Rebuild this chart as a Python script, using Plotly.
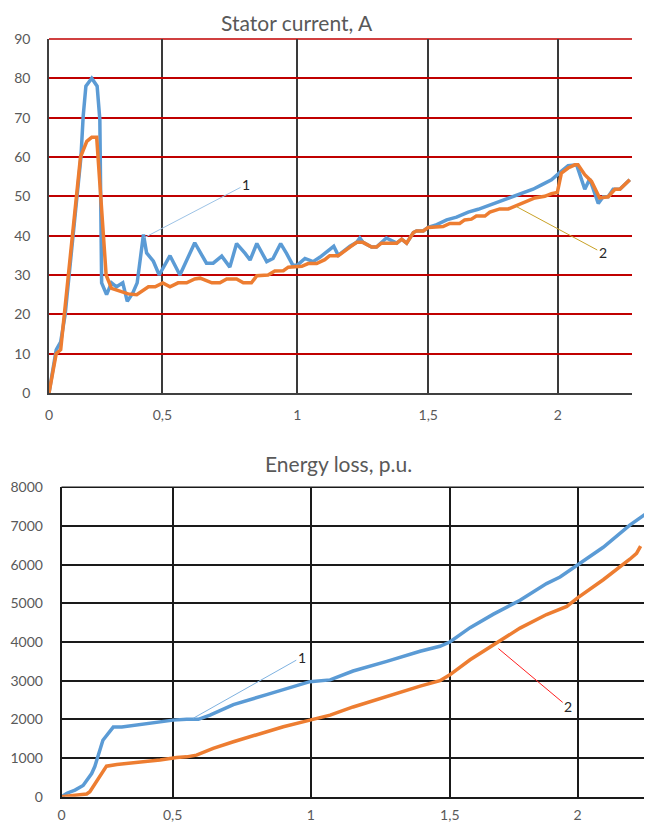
import plotly.graph_objects as go

# ---------------- Top chart: stator current (sample index on x) ----------------
cur_tick_pos = [0, 25.2, 55.2, 84.3, 113.1]
cur_tick_lab = ["0", "0,5", "1", "1,5", "2"]

cur1_x = [0, 1.6, 2.6, 3.6, 7.1, 7.6, 8.2, 9.5, 10.7, 11.3, 11.7, 12.8, 13.9, 15.0, 16.4,
          17.4, 18.6, 19.6, 21.0, 21.7, 23.2, 24.5, 26.9, 29.1, 32.4, 35.0, 36.5, 38.4,
          40.2, 41.7, 43.6, 44.7, 46.2, 48.4, 49.8, 51.5, 52.8, 54.2, 55.2, 56.9, 58.7,
          60.2, 63.3, 64.3, 66.9, 68.4, 69.1, 69.8, 71.7, 72.8, 75.0, 77.3, 78.4, 79.5,
          81.0, 81.7, 83.2, 84.3, 86.2, 88.4, 90.6, 93.2, 95.4, 98.0, 100.2, 103.2, 105.4,
          107.6, 109.5, 111.7, 113.6, 115.4, 117.3, 119.1, 120.2, 122.1, 123.2, 124.3,
          125.4, 126.9, 129.1]
cur1_y = [0, 11, 13, 20, 60, 70.4, 78, 80, 78, 69.6, 28, 25, 28, 27, 28,
          23.3, 25.4, 28, 40.3, 35.6, 33.5, 30, 34.9, 30, 38.2, 33, 33, 34.8,
          32, 38, 35.5, 33.8, 38, 33.4, 34.2, 38, 35.5, 32.5, 32.5, 34.2, 33.4,
          34.5, 37.3, 35, 37.3, 38.3, 39.4, 38.3, 37.1, 37.1, 39.4, 38.1, 39.1, 38.1,
          40.8, 41.2, 41.2, 42.1, 42.8, 44, 44.7, 46, 46.7, 47.8, 48.8, 50, 51,
          51.8, 52.9, 54.2, 56.1, 57.8, 58, 51.8, 54.4, 48.2, 49.9, 49.9,
          51.8, 51.8, 54.2]

cur2_x = [0, 1.6, 2.6, 7.0, 8.4, 9.5, 10.6, 11.7, 12.7, 13.9, 15.8, 17.6, 19.5, 20.6,
          22.1, 23.6, 25.3, 26.9, 28.7, 30.6, 32.4, 33.6, 36.2, 38.0, 39.5, 41.7, 43.2,
          45.0, 46.2, 48.7, 50.2, 52.1, 53.2, 56.2, 57.6, 59.5, 61.3, 62.4, 64.3, 66.9,
          68.4, 69.8, 71.7, 72.8, 73.9, 77.3, 78.4, 79.5, 81.0, 81.7, 83.2, 84.3, 87.6,
          89.1, 91.3, 92.4, 93.9, 95.0, 96.9, 98.0, 100.2, 102.1, 103.9, 106.2, 108.0,
          110.2, 111.7, 113.0, 113.9, 115.4, 116.9, 117.6, 119.1, 120.6, 121.7, 122.4,
          124.3, 125.8, 126.9, 129.1]
cur2_y = [0, 10, 11, 60, 64, 65, 65, 48, 30, 26.6, 25.8, 25.2, 25, 25.8,
          27, 27, 28, 27, 28, 28, 29, 29.2, 28, 28, 29, 29, 28,
          28, 29.8, 30, 31, 31.1, 32, 32.2, 32.9, 32.9, 33.9, 34.9, 34.9, 37.1,
          38.3, 38.3, 37.1, 37.1, 38.1, 38.1, 39.1, 38.1, 40.8, 41.2, 41.2, 42.1, 42.3,
          43.1, 43.1, 44, 44.2, 45, 45, 46, 46.8, 46.8, 47.7, 48.8, 49.6,
          50, 50.7, 51, 55.9, 57.2, 58, 58, 55.5, 53.8, 51.3, 49.6,
          49.9, 51.8, 51.8, 54.2]

# ---------------- Bottom chart: energy loss ----------------
en_tick_pos = [0, 24.7, 55.4, 86.3, 114.7]
en_tick_lab = ["0", "0,5", "1", "1,5", "2"]

en1_x = [0, 1.2, 3.0, 4.8, 6.7, 7.4, 9.2, 11.5, 13.4, 18.9, 21.9, 24.8, 27.8, 30.4, 33.0,
         38.2, 45.6, 53.0, 55.2, 59.7, 64.8, 72.3, 79.7, 84.1, 86.3, 90.8, 96.0, 101.9,
         107.8, 110.8, 114.7, 120.4, 126.3, 129.9]
en1_y = [0, 90, 170, 290, 600, 780, 1460, 1800, 1800, 1890, 1935, 1980, 2000, 2000, 2110,
         2380, 2640, 2900, 2975, 3020, 3250, 3500, 3760, 3890, 4000, 4370, 4720, 5080,
         5510, 5680, 6000, 6450, 7020, 7320]

en2_x = [0, 5.6, 6.3, 10.0, 12.3, 16.7, 21.9, 25.6, 27.8, 30.0, 33.0, 33.7, 38.2, 45.6,
         49.3, 55.2, 59.7, 64.8, 72.3, 79.7, 84.1, 86.3, 90.8, 96.7, 101.9, 107.8, 112.3,
         114.7, 120.4, 126.3, 127.8, 128.7]
en2_y = [0, 70, 130, 790, 835, 880, 950, 1015, 1030, 1075, 1205, 1250, 1420, 1680,
         1810, 1980, 2110, 2320, 2600, 2860, 3000, 3150, 3540, 3970, 4360, 4710, 4920,
         5140, 5610, 6140, 6290, 6480]

BLUE = "#5B9BD5"
ORANGE = "#ED7D31"
TXT = "#595959"
FONT = "Lato"
RED_GRID = "#C00000"
BLACK_GRID = "#1a1a1a"

fig = go.Figure()
fig.add_trace(go.Scatter(x=cur1_x, y=cur1_y, mode="lines", line=dict(color=BLUE, width=3.5),
                         xaxis="x", yaxis="y", showlegend=False))
fig.add_trace(go.Scatter(x=cur2_x, y=cur2_y, mode="lines", line=dict(color=ORANGE, width=3.5),
                         xaxis="x", yaxis="y", showlegend=False))
fig.add_trace(go.Scatter(x=en1_x, y=en1_y, mode="lines", line=dict(color=BLUE, width=3.5),
                         xaxis="x2", yaxis="y2", showlegend=False))
fig.add_trace(go.Scatter(x=en2_x, y=en2_y, mode="lines", line=dict(color=ORANGE, width=3.5),
                         xaxis="x2", yaxis="y2", showlegend=False))

# page body has an 8 px margin; the figure fills the rest of the window
OFF = 8.0
W = 644.0
H = 815.0


def px(v):
    return (v - OFF) / W


def py(v):
    return 1 - (v - OFF) / H


tickfont = dict(family=FONT, size=14, color=TXT)

fig.update_layout(
    width=int(W), height=int(H),
    margin=dict(l=0, r=0, t=0, b=0),
    paper_bgcolor="white", plot_bgcolor="white",
    font=dict(family=FONT, color=TXT),
    xaxis=dict(domain=[px(49), px(632)], range=[0, 129.6], tickvals=cur_tick_pos,
               ticktext=cur_tick_lab, showgrid=True, gridcolor="#3a3a3a", gridwidth=1.8,
               zeroline=False, showline=True, linecolor="#404040", linewidth=1.5,
               tickfont=tickfont, ticks="", ticklabelstandoff=8, automargin=False,
               anchor="y"),
    yaxis=dict(domain=[py(393), py(39)], range=[0, 90], dtick=10,
               showgrid=True, gridcolor=RED_GRID, gridwidth=1.5, zeroline=False,
               showline=True, linecolor="#404040", linewidth=1.5, tickfont=tickfont,
               ticks="", ticklabelstandoff=14, automargin=False, anchor="x"),
    xaxis2=dict(domain=[px(61.5), px(646)], range=[0, 129.9], tickvals=en_tick_pos,
                ticktext=en_tick_lab, showgrid=True, gridcolor=BLACK_GRID, gridwidth=1.5,
                zeroline=False, showline=True, linecolor=BLACK_GRID, linewidth=1.5,
                tickfont=tickfont, ticks="", ticklabelstandoff=5, automargin=False,
                anchor="y2"),
    yaxis2=dict(domain=[py(796.7), py(487.3)], range=[0, 8000], dtick=1000,
                showgrid=True, gridcolor=BLACK_GRID, gridwidth=1.5, zeroline=False,
                showline=True, linecolor=BLACK_GRID, linewidth=1.5, tickfont=tickfont,
                ticks="", ticklabelstandoff=14, automargin=False, anchor="x2"),
)

# top border gridlines (at the top of each value range)
fig.add_shape(type="line", xref="x domain", yref="y domain", x0=0, x1=1, y0=1, y1=1,
              line=dict(color=RED_GRID, width=1.5), layer="below")
fig.add_shape(type="line", xref="x2 domain", yref="y2 domain", x0=0, x1=1, y0=1, y1=1,
              line=dict(color=BLACK_GRID, width=1.5), layer="below")

annos = [
    dict(text="Stator current, A", xref="paper", yref="paper", x=px(296.5), y=1,
         xanchor="center", yanchor="top",
         showarrow=False, font=dict(family=FONT, size=21, color=TXT)),
    dict(text="Energy loss, p.u.", xref="paper", yref="paper", x=px(338.5), y=py(463),
         xanchor="center", yanchor="middle",
         showarrow=False, font=dict(family=FONT, size=21, color=TXT)),
    dict(text="1", xref="x", yref="y", axref="x", ayref="y", x=21.2, y=39.5, ax=43.8, ay=53.0,
         showarrow=True, arrowhead=0, arrowwidth=1, arrowcolor="#9DC3E6",
         font=dict(family=FONT, size=14, color="#262626")),
    dict(text="2", xref="x", yref="y", axref="x", ayref="y", x=103.9, y=47.4, ax=123.1, ay=35.6,
         showarrow=True, arrowhead=0, arrowwidth=1, arrowcolor="#C9A227",
         font=dict(family=FONT, size=14, color="#262626")),
    dict(text="1", xref="x2", yref="y2", axref="x2", ayref="y2", x=29.3, y=2030, ax=53.4, ay=3610,
         showarrow=True, arrowhead=0, arrowwidth=1, arrowcolor="#7FB2E0",
         font=dict(family=FONT, size=14, color="#262626")),
    dict(text="2", xref="x2", yref="y2", axref="x2", ayref="y2", x=97.1, y=3830, ax=112.6, ay=2320,
         showarrow=True, arrowhead=0, arrowwidth=1, arrowcolor="#FF2020",
         font=dict(family=FONT, size=14, color="#262626")),
]
fig.update_layout(annotations=annos)

fig.write_html("out.html")
